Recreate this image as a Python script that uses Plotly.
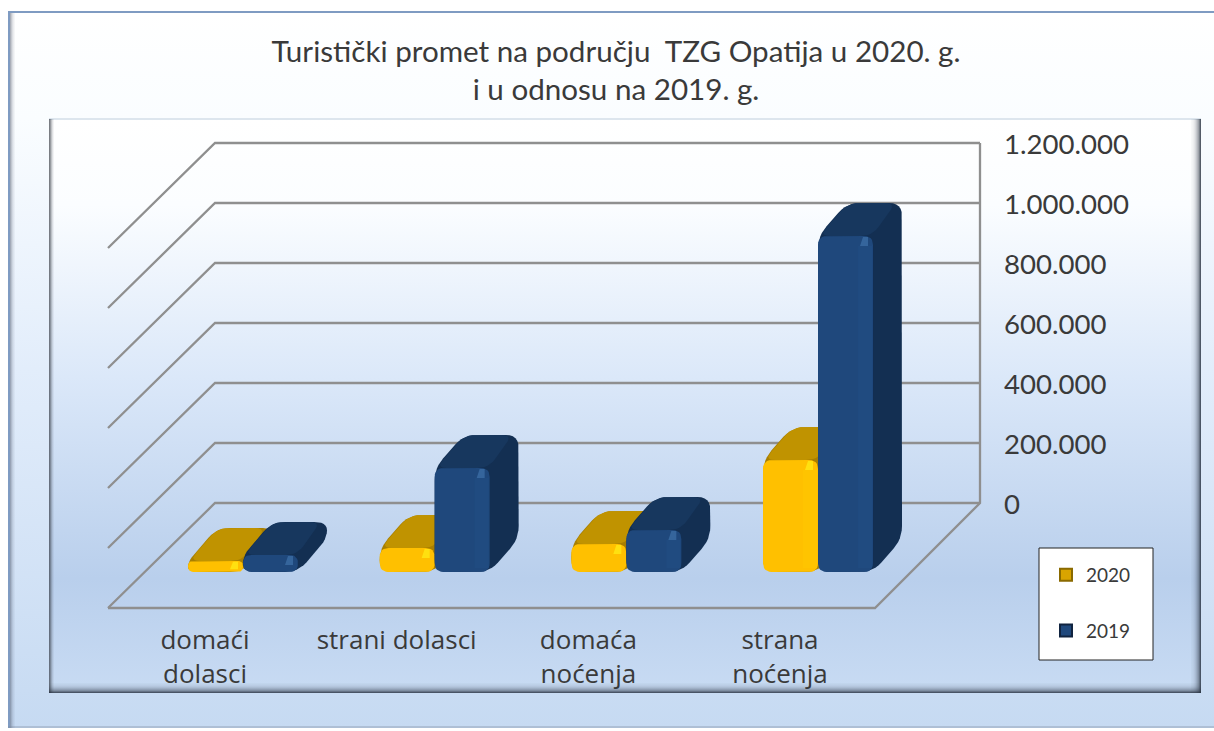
import plotly.graph_objects as go

categories = ["domaći<br>dolasci", "strani dolasci", "domaća<br>noćenja", "strana<br>noćenja"]
values_2020 = [37000, 80000, 93000, 373000]
values_2019 = [57000, 347000, 140000, 1120000]
series_names = ["2020", "2019"]
tick_values = [0, 200000, 400000, 600000, 800000, 1000000, 1200000]
tick_labels = ["0", "200.000", "400.000", "600.000", "800.000", "1.000.000", "1.200.000"]

W, H = 1214, 731
PX_PER_VAL = 0.0003
FONT = "Lato"
TXT = "#3a3a3a"

def ypx(py, base):
    return (base - py) / PX_PER_VAL

WALL_BASE = 503
BAR_BASE = 572

def rounded(pts, r):
    out = []
    n = len(pts)
    for i in range(n):
        p0, p1, p2 = pts[i - 1], pts[i], pts[(i + 1) % n]
        def toward(a, b):
            d = ((a[0] - b[0]) ** 2 + (a[1] - b[1]) ** 2) ** 0.5
            t = min(r, d / 2) / d if d else 0
            return (b[0] + (a[0] - b[0]) * t, b[1] + (a[1] - b[1]) * t)
        s, e = toward(p0, p1), toward(p2, p1)
        for k in range(7):
            t = k / 6
            out.append(((1 - t) ** 2 * s[0] + 2 * t * (1 - t) * p1[0] + t * t * e[0],
                        (1 - t) ** 2 * s[1] + 2 * t * (1 - t) * p1[1] + t * t * e[1]))
    out.append(out[0])
    return out

fig = go.Figure()

def poly(pts, color, yaxis="y2", grad=None):
    kw = dict(fillgradient=grad) if grad else dict(fillcolor=color)
    fig.add_trace(go.Scatter(x=[p[0] for p in pts], y=[p[1] / PX_PER_VAL for p in pts], mode="lines",
                             line=dict(width=0), fill="toself", yaxis=yaxis, showlegend=False,
                             hoverinfo="skip", **kw))

def rect_bg(x0, x1, py0, py1, stops):
    pts = [(x0, (WALL_BASE - py0) * 1.0), (x1, (WALL_BASE - py0) * 1.0),
           (x1, (WALL_BASE - py1) * 1.0), (x0, (WALL_BASE - py1) * 1.0), (x0, (WALL_BASE - py0) * 1.0)]
    poly(pts, None, "y", dict(type="vertical", colorscale=stops))

# backgrounds (stops run from the lower edge upward)
rect_bg(8, 1214, 11, 728, [[0, "#c6daf2"], [0.5, "#e2edfb"], [0.85, "#fafdff"], [1, "#ffffff"]])
rect_bg(49, 1201, 119, 693, [[0, "#c8dbf3"], [0.2, "#b9cfec"], [0.55, "#dbe8f9"], [0.85, "#fbfdff"], [1, "#ffffff"]])

# walls and floor
GRID = dict(color="#8f8f8f", width=2.3)
X_BACK_L, X_BACK_R, X_FRONT_L, X_FRONT_R = 215, 980, 108, 875
DEPTH_V = 105 / PX_PER_VAL
for v in tick_values:
    fig.add_trace(go.Scatter(x=[X_FRONT_L, X_BACK_L, X_BACK_R], y=[v - DEPTH_V, v, v], mode="lines", line=GRID,
                             showlegend=False, hoverinfo="skip", yaxis="y"))
fig.add_trace(go.Scatter(x=[X_BACK_R, X_BACK_R, X_FRONT_R, X_FRONT_L],
                         y=[tick_values[-1], 0, -DEPTH_V, -DEPTH_V], mode="lines", line=GRID,
                         showlegend=False, hoverinfo="skip", yaxis="y"))

# bars
BAR_W, DX, DY = 55, 29, 33
GROUP_X0, GROUP_STEP = 243, 191.67
STYLE = {
    "2020": dict(front="#ffc000", top="#c09300", side="#a87f00", band="#ffc400", hi="#ffe010"),
    "2019": dict(front="#1f487c", top="#17375e", side="#132f52", band="#204b80", hi="#35659c"),
}

def bar3d(x0, value, st):
    h = value * PX_PER_VAL
    r = min(9, max(h / 2, 3))
    sil = [(x0, 0), (x0 + BAR_W, 0), (x0 + BAR_W + DX, DY), (x0 + BAR_W + DX, h + DY), (x0 + DX, h + DY), (x0, h)]
    poly(rounded(sil, 13), st["side"])
    top = [(x0 + 1, h), (x0 + BAR_W - 1, h), (x0 + BAR_W + DX - 6, h + DY), (x0 + DX + 1, h + DY)]
    poly(rounded(top, 11), st["top"])
    front = [(x0, 0), (x0 + BAR_W, 0), (x0 + BAR_W, h), (x0, h)]
    poly(rounded(front, r), st["front"])
    if h > 30:
        poly([(x0 + BAR_W - 15, 4), (x0 + BAR_W - 1, 4), (x0 + BAR_W - 1, h - 10), (x0 + BAR_W - 15, h - 10), (x0 + BAR_W - 15, 4)], st["band"])
    hh = min(10, h * 0.75)
    poly([(x0 + BAR_W - 13, h - hh), (x0 + BAR_W - 5, h - hh), (x0 + BAR_W - 5, h - hh * 0.1),
          (x0 + BAR_W - 10, h - hh * 0.1), (x0 + BAR_W - 13, h - hh)], st["hi"])

for i in range(len(categories)):
    cx = GROUP_X0 + GROUP_STEP * i
    bar3d(cx - BAR_W, values_2020[i], STYLE["2020"])
    bar3d(cx, values_2019[i], STYLE["2019"])

# legend entries
for name, color, edge in zip(series_names, ["#d9a400", "#1f487c"], ["#8a6a00", "#10233f"]):
    fig.add_trace(go.Scatter(x=[None], y=[None], mode="markers", name=name, legendgroup=name,
                             marker=dict(symbol="square", size=12, color=color, line=dict(color=edge, width=1))))

fig.update_layout(
    width=W, height=H, margin=dict(l=0, r=0, t=0, b=0),
    paper_bgcolor="white", plot_bgcolor="white", font=dict(family=FONT, color=TXT),
    title=dict(text="Turistički promet na području  TZG Opatija u 2020. g.<br>i u odnosu na 2019. g.",
               x=616 / W, xanchor="center", y=1 - 62 / H, yanchor="top", font=dict(size=29.6, family=FONT, color=TXT)),
    xaxis=dict(range=[0, W], domain=[0, 1], showgrid=False, zeroline=False, showline=False, ticks="",
               tickmode="array", tickvals=[GROUP_X0 + GROUP_STEP * i - 38 for i in range(len(categories))],
               ticktext=categories, tickfont=dict(size=26, family="Open Sans", color=TXT), anchor="free",
               position=1 - 622 / H, side="bottom"),
    yaxis=dict(range=[ypx(H, WALL_BASE), ypx(0, WALL_BASE)], domain=[0, 1], showgrid=False, zeroline=False, showline=False,
               ticks="", tickmode="array", tickvals=tick_values, ticktext=tick_labels,
               tickfont=dict(size=27.6, color=TXT), side="right", anchor="free", position=1003 / W, ticklabelshift=1),
    yaxis2=dict(range=[ypx(H, BAR_BASE), ypx(0, BAR_BASE)], domain=[0, 1], overlaying="y", visible=False),
    showlegend=True,
    legend=dict(x=1046 / W, xanchor="left", y=1 - 556 / H, yanchor="top", bgcolor="rgba(0,0,0,0)",
                borderwidth=0, font=dict(size=19, color=TXT), tracegroupgap=28, traceorder="grouped",
                itemsizing="constant"),
)

def band(x0, y0, x1, y1, color):
    fig.add_shape(type="rect", xref="paper", yref="paper", x0=x0 / W, x1=x1 / W, y0=1 - y0 / H, y1=1 - y1 / H,
                  fillcolor=color, line_width=0, layer="above")

# legend box
fig.add_shape(type="rect", xref="paper", yref="paper", x0=1039 / W, x1=1153 / W, y0=1 - 660 / H, y1=1 - 548 / H,
              fillcolor="white", line=dict(color="#222222", width=1), layer="above")

# outer frame bevel
band(8, 11, 1214, 13, "#7f9bc2")
band(8, 11, 10, 728, "#7f9bc2")
for k, a in enumerate([0.45, 0.3, 0.18, 0.1, 0.05]):
    band(10 + k, 13, 11 + k, 728, f"rgba(70,80,100,{a})")
band(8, 726, 1214, 728, "rgba(130,140,160,0.35)")
# inner panel bevel
band(49, 118, 1201, 120, "#dde6ee")
for k, a in enumerate([0.65, 0.5, 0.3, 0.15, 0.06]):
    band(49 + k, 119, 50 + k, 693, f"rgba(50,55,65,{a})")
for k, a in enumerate([0.8, 0.62, 0.45, 0.35, 0.26, 0.18, 0.12, 0.08, 0.05, 0.03]):
    band(1200 - k, 119, 1201 - k, 693, f"rgba(40,50,65,{a})")
    band(49, 692 - k, 1201, 693 - k, f"rgba(40,50,65,{a})")

fig.write_html("out.html", config=dict(displayModeBar=False),
               post_script="document.body.style.margin='0';document.body.style.overflow='hidden';")
